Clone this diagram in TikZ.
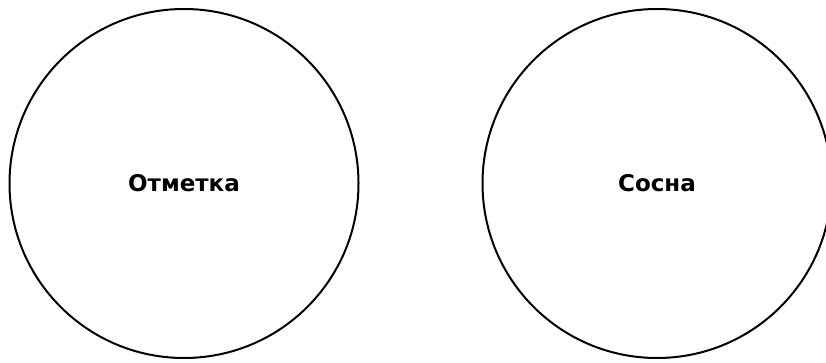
\documentclass[tikz,border=0pt]{standalone}
\usepackage{fontspec}
\setmainfont{DejaVu Sans}
\begin{document}
\begin{tikzpicture}[x=1pt,y=-1pt,
  ring/.style={circle, draw=black, line width=2pt, inner sep=0pt,
    minimum size=349pt, font=\bfseries\fontsize{23}{27}\selectfont}]
\useasboundingbox (0,0) rectangle (826,363);
\clip (0,0) rectangle (826,363);
\node[ring] (mark) at (184,183.5) {Отметка};
\node[ring] (pine) at (657,183.5) {Сосна};
\end{tikzpicture}
\end{document}
